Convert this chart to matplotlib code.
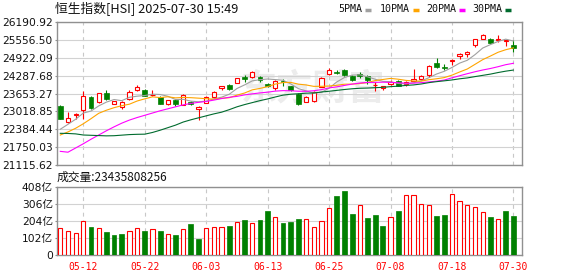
import matplotlib
matplotlib.use('Agg')
import matplotlib.pyplot as plt
from matplotlib.lines import Line2D
import numpy as np

# trading days shown (05-07 .. 07-30)
dates = ['05-07', '05-08', '05-09', '05-12', '05-13', '05-14', '05-15', '05-16', '05-19', '05-20',
         '05-21', '05-22', '05-23', '05-26', '05-27', '05-28', '05-29', '05-30', '06-02', '06-03',
         '06-04', '06-05', '06-06', '06-09', '06-10', '06-11', '06-12', '06-13', '06-16', '06-17',
         '06-18', '06-19', '06-20', '06-23', '06-24', '06-25', '06-26', '06-27', '06-30', '07-02',
         '07-03', '07-04', '07-07', '07-08', '07-09', '07-10', '07-11', '07-14', '07-15', '07-16',
         '07-17', '07-18', '07-21', '07-22', '07-23', '07-24', '07-25', '07-28', '07-29', '07-30']

opens = [23204, 22654, 22895, 23050, 23521, 23345, 23673, 23286, 23190, 23462,
         23767, 23790, 23600, 23521, 23263, 23439, 23251, 23357, 23087, 23333,
         23532, 23840, 23954, 24024, 24230, 24235, 24247, 23997, 23837, 24106,
         23907, 23630, 23368, 23380, 23900, 24352, 24410, 24493, 24282, 24352,
         24282, 23940, 23849, 23990, 24106, 23989, 24083, 24170, 24317, 24750,
         24610, 24820, 25000, 25043, 25371, 25605, 25582, 25547, 25530, 25371]
highs = [23240, 23005, 22950, 23731, 23556, 23685, 23767, 23400, 23404, 23767,
         23966, 23813, 23790, 23556, 23439, 23460, 23650, 23404, 23204, 23579,
         23755, 23930, 23990, 24215, 24317, 24469, 24282, 24030, 24130, 24165,
         23930, 23660, 23556, 23743, 24230, 24551, 24470, 24520, 24300, 24434,
         24310, 24048, 23935, 24140, 24130, 24090, 24516, 24320, 24660, 24926,
         24704, 24868, 25078, 25172, 25605, 25781, 25620, 25723, 25560, 25547]
lows = [22740, 22619, 22740, 22760, 23100, 23322, 23439, 23263, 23087, 23439,
        23743, 23556, 23556, 23275, 23228, 23204, 23228, 23228, 22712, 23322,
        23509, 23767, 23790, 24010, 24048, 24212, 24048, 23884, 23767, 23931,
        23732, 23228, 23345, 23345, 23880, 24317, 24330, 24282, 24100, 24200,
        24001, 23743, 23790, 23950, 23907, 23907, 24050, 24120, 24250, 24550,
        24493, 24668, 24890, 24961, 25289, 25570, 25430, 25488, 25336, 25137]
closes = [22759, 22794, 22915, 23556, 23122, 23673, 23462, 23380, 23357, 23720,
          23872, 23579, 23615, 23298, 23415, 23286, 23614, 23298, 23181, 23532,
          23696, 23907, 23813, 24200, 24180, 24411, 24118, 23931, 24094, 24060,
          23767, 23280, 23532, 23696, 24205, 24493, 24390, 24317, 24118, 24258,
          24140, 23966, 23931, 24070, 23931, 24071, 24165, 24270, 24633, 24587,
          24552, 24844, 25043, 25137, 25582, 25723, 25453, 25605, 25547, 25254]
prev_close = 22690

ma5 = [22385, 22560, 22740, 22960, 23030, 23213, 23347, 23439, 23399, 23518,
       23558, 23582, 23629, 23617, 23556, 23439, 23446, 23382, 23359, 23382,
       23464, 23523, 23626, 23830, 23959, 24102, 24144, 24168, 24147, 24123,
       23994, 23826, 23747, 23667, 23696, 23841, 24063, 24220, 24305, 24315,
       24245, 24160, 24083, 24073, 24008, 23994, 24034, 24101, 24214, 24345,
       24441, 24577, 24732, 24833, 25032, 25266, 25388, 25500, 25582, 25516]
ma10 = [22180, 22290, 22420, 22580, 22760, 22950, 23060, 23150, 23220, 23274,
        23386, 23464, 23534, 23508, 23537, 23498, 23514, 23505, 23488, 23469,
        23451, 23484, 23504, 23594, 23671, 23783, 23834, 23897, 23988, 24041,
        24048, 23985, 23957, 23907, 23909, 23918, 23945, 23983, 23986, 24006,
        24043, 24112, 24151, 24189, 24161, 24119, 24097, 24092, 24144, 24176,
        24218, 24305, 24417, 24523, 24688, 24854, 24982, 25116, 25207, 25274]
ma20 = [21600, 21570, 21720, 21870, 22030, 22180, 22330, 22470, 22600, 22710,
        22800, 22880, 22960, 23040, 23110, 23180, 23250, 23300, 23340, 23372,
        23419, 23474, 23519, 23551, 23604, 23641, 23674, 23701, 23738, 23755,
        23750, 23735, 23731, 23751, 23790, 23851, 23889, 23940, 23987, 24024,
        24046, 24049, 24055, 24048, 24036, 24019, 24021, 24038, 24065, 24091,
        24131, 24209, 24284, 24356, 24425, 24487, 24540, 24604, 24676, 24725]
ma30 = [22240, 22235, 22220, 22180, 22170, 22160, 22150, 22155, 22175, 22195,
        22205, 22210, 22270, 22350, 22440, 22530, 22640, 22720, 22790, 22860,
        22930, 22990, 23080, 23180, 23260, 23330, 23400, 23460, 23530, 23595,
        23628, 23645, 23665, 23670, 23706, 23733, 23764, 23795, 23821, 23839,
        23847, 23860, 23871, 23897, 23914, 23940, 23958, 23991, 24039, 24074,
        24103, 24134, 24175, 24206, 24253, 24297, 24341, 24397, 24446, 24485]

# volume in 亿 shares
volumes = [160, 143, 131, 202, 168, 160, 139, 121, 127, 143,
           160, 145, 154, 145, 125, 121, 154, 186, 97, 160,
           166, 166, 174, 196, 210, 190, 210, 263, 226, 192,
           198, 216, 214, 166, 202, 279, 353, 382, 246, 297,
           222, 240, 174, 226, 263, 356, 356, 303, 297, 234,
           240, 364, 323, 297, 285, 257, 228, 214, 263, 234]

price_ticks = [21115.62, 21750.03, 22384.44, 23018.85, 23653.27,
               24287.68, 24922.09, 25556.50, 26190.92]
vol_ticks = [0, 102, 204, 306, 408]
vol_labels = ['0', '102亿', '204亿', '306亿', '408亿']
tick_idx = [3, 11, 19, 27, 35, 43, 51, 59]

RED = '#ff0000'
GREEN = '#008000'
W, H = 578, 276

x = np.arange(len(dates))
o = np.array(opens); c = np.array(closes)
hi = np.array(highs); lo = np.array(lows)
up = c >= o

fig = plt.figure(figsize=(W / 100, H / 100), dpi=100)
fig.patch.set_facecolor('white')

ax = fig.add_axes([57 / W, 111 / H, 465 / W, 143 / H])
axv = fig.add_axes([57 / W, 20.7 / H, 465 / W, 68.6 / H])

for a in (ax, axv):
    a.set_xlim(-0.43, 60.12)
    a.set_xticks(tick_idx)
    a.grid(axis='x', color='#c8c8c8', linestyle=(0, (3.5, 3.5)), lw=0.8)
    a.grid(axis='y', color='#d2d2d2', linestyle='-', lw=0.8)
    a.set_axisbelow(True)
    for s in a.spines.values():
        s.set_color('#909090')
        s.set_linewidth(1.0)
    a.tick_params(axis='y', length=1.5, pad=1.5, color='#909090', labelsize=7.7,
                  labelcolor='#111111')

# watermark
ax.text(0.55, 0.53, '东方财富', transform=ax.transAxes, ha='center', va='center',
        fontsize=26, fontweight='bold', color='#ececec', family=['Noto Sans CJK SC'],
        zorder=0)

# candles
ax.vlines(x, lo, hi, colors=np.where(up, RED, GREEN), lw=0.8, zorder=3)
body = np.maximum(np.abs(c - o), 12)
ax.bar(x[up], body[up], bottom=np.minimum(o, c)[up], width=0.56, facecolor='white',
       edgecolor=RED, lw=0.8, zorder=4)
ax.bar(x[~up], body[~up], bottom=np.minimum(o, c)[~up], width=0.62, color=GREEN,
       edgecolor=GREEN, lw=0.5, zorder=4)

# moving averages
ax.plot(x, ma5, color='#a0a0a0', lw=0.8, zorder=5)
ax.plot(x, ma10, color='#ffa500', lw=0.8, zorder=5)
ax.plot(x, ma20, color='#ff00ff', lw=0.8, zorder=5)
ax.plot(x, ma30, color='#006b2e', lw=0.8, zorder=5)

ax.set_ylim(price_ticks[0], price_ticks[-1])
ax.set_yticks(price_ticks)
ax.set_yticklabels(['%.2f' % t for t in price_ticks])
ax.tick_params(axis='x', length=0, labelbottom=False)

# volume
vol_up = np.diff(np.concatenate([[prev_close], c])) >= 0
v = np.array(volumes)
axv.bar(x[vol_up], v[vol_up], width=0.56, facecolor='white', edgecolor=RED, lw=0.8, zorder=3)
axv.bar(x[~vol_up], v[~vol_up], width=0.62, color=GREEN, edgecolor=GREEN, lw=0.5, zorder=3)
axv.set_ylim(0, 408)
axv.set_yticks(vol_ticks)
axv.set_yticklabels(vol_labels, family=['DejaVu Sans', 'Noto Sans CJK SC'])
axv.set_xticklabels([dates[i] for i in tick_idx], family='DejaVu Sans Mono',
                    fontsize=7, color=RED)
axv.tick_params(axis='x', length=0, pad=4.5)

# header texts
fig.text(55 / W, 1 - 9.5 / H, '恒生指数[HSI] 2025-07-30 15:49', ha='left', va='center',
         fontsize=9.2, family=['Noto Sans CJK SC'], color='#111111')
fig.text(57 / W, 1 - 177.5 / H, '成交量:23435808256', ha='left', va='center',
         fontsize=8.5, family=['Noto Sans CJK SC'], color='#111111')

legend = [('5PMA', 338, 365, '#a0a0a0'), ('10PMA', 380, 413, '#ffa500'),
          ('20PMA', 426, 459, '#ff00ff'), ('30PMA', 472, 505, '#006b2e')]
for name, tx, mx, col in legend:
    fig.text(tx / W, 1 - 9.5 / H, name, ha='left', va='center', fontsize=7.2,
             family='DejaVu Sans Mono', color='#111111')
    fig.add_artist(Line2D([mx / W, (mx + 6) / W], [1 - 9.5 / H] * 2, color=col, lw=2.5,
                          solid_capstyle='butt', transform=fig.transFigure))

fig.savefig('out.png', dpi=100)
